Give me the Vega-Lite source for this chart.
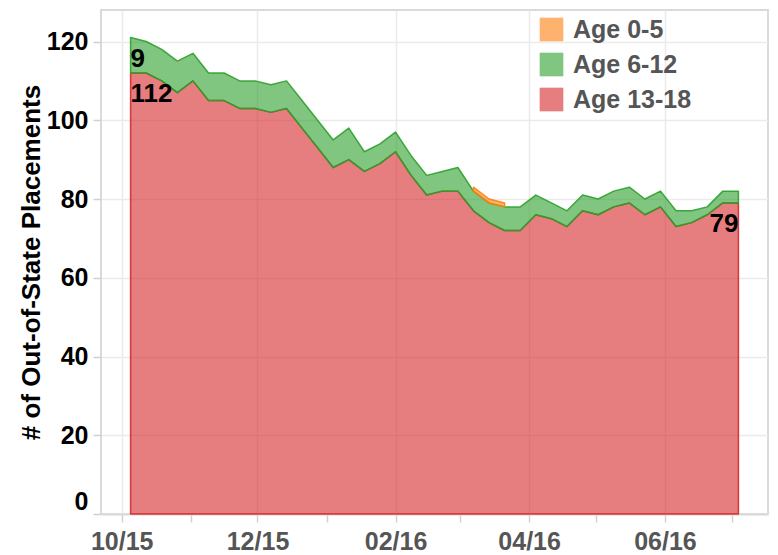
{
  "$schema": "https://vega.github.io/schema/vega-lite/v6.json",
  "width": 667,
  "height": 504,
  "autosize": {"type": "none"},
  "padding": {"left": 101, "top": 10, "right": 10, "bottom": 41},
  "background": "white",
  "data": {
    "values": [
      {"date": "2015-10-05", "age": "Age 13-18", "minAge": 13, "count": 112},
      {"date": "2015-10-12", "age": "Age 13-18", "minAge": 13, "count": 112},
      {"date": "2015-10-19", "age": "Age 13-18", "minAge": 13, "count": 110},
      {"date": "2015-10-26", "age": "Age 13-18", "minAge": 13, "count": 107},
      {"date": "2015-11-02", "age": "Age 13-18", "minAge": 13, "count": 110},
      {"date": "2015-11-09", "age": "Age 13-18", "minAge": 13, "count": 105},
      {"date": "2015-11-16", "age": "Age 13-18", "minAge": 13, "count": 105},
      {"date": "2015-11-23", "age": "Age 13-18", "minAge": 13, "count": 103},
      {"date": "2015-11-30", "age": "Age 13-18", "minAge": 13, "count": 103},
      {"date": "2015-12-07", "age": "Age 13-18", "minAge": 13, "count": 102},
      {"date": "2015-12-14", "age": "Age 13-18", "minAge": 13, "count": 103},
      {"date": "2015-12-21", "age": "Age 13-18", "minAge": 13, "count": 98},
      {"date": "2015-12-28", "age": "Age 13-18", "minAge": 13, "count": 93},
      {"date": "2016-01-04", "age": "Age 13-18", "minAge": 13, "count": 88},
      {"date": "2016-01-11", "age": "Age 13-18", "minAge": 13, "count": 90},
      {"date": "2016-01-18", "age": "Age 13-18", "minAge": 13, "count": 87},
      {"date": "2016-01-25", "age": "Age 13-18", "minAge": 13, "count": 89},
      {"date": "2016-02-01", "age": "Age 13-18", "minAge": 13, "count": 92},
      {"date": "2016-02-08", "age": "Age 13-18", "minAge": 13, "count": 86},
      {"date": "2016-02-15", "age": "Age 13-18", "minAge": 13, "count": 81},
      {"date": "2016-02-22", "age": "Age 13-18", "minAge": 13, "count": 82},
      {"date": "2016-02-29", "age": "Age 13-18", "minAge": 13, "count": 82},
      {"date": "2016-03-07", "age": "Age 13-18", "minAge": 13, "count": 77},
      {"date": "2016-03-14", "age": "Age 13-18", "minAge": 13, "count": 74},
      {"date": "2016-03-21", "age": "Age 13-18", "minAge": 13, "count": 72},
      {"date": "2016-03-28", "age": "Age 13-18", "minAge": 13, "count": 72},
      {"date": "2016-04-04", "age": "Age 13-18", "minAge": 13, "count": 76},
      {"date": "2016-04-11", "age": "Age 13-18", "minAge": 13, "count": 75},
      {"date": "2016-04-18", "age": "Age 13-18", "minAge": 13, "count": 73},
      {"date": "2016-04-25", "age": "Age 13-18", "minAge": 13, "count": 77},
      {"date": "2016-05-02", "age": "Age 13-18", "minAge": 13, "count": 76},
      {"date": "2016-05-09", "age": "Age 13-18", "minAge": 13, "count": 78},
      {"date": "2016-05-16", "age": "Age 13-18", "minAge": 13, "count": 79},
      {"date": "2016-05-23", "age": "Age 13-18", "minAge": 13, "count": 76},
      {"date": "2016-05-30", "age": "Age 13-18", "minAge": 13, "count": 78},
      {"date": "2016-06-06", "age": "Age 13-18", "minAge": 13, "count": 73},
      {"date": "2016-06-13", "age": "Age 13-18", "minAge": 13, "count": 74},
      {"date": "2016-06-20", "age": "Age 13-18", "minAge": 13, "count": 76},
      {"date": "2016-06-27", "age": "Age 13-18", "minAge": 13, "count": 79},
      {"date": "2016-07-04", "age": "Age 13-18", "minAge": 13, "count": 79},
      {"date": "2015-10-05", "age": "Age 6-12", "minAge": 6, "count": 9},
      {"date": "2015-10-12", "age": "Age 6-12", "minAge": 6, "count": 8},
      {"date": "2015-10-19", "age": "Age 6-12", "minAge": 6, "count": 8},
      {"date": "2015-10-26", "age": "Age 6-12", "minAge": 6, "count": 8},
      {"date": "2015-11-02", "age": "Age 6-12", "minAge": 6, "count": 7},
      {"date": "2015-11-09", "age": "Age 6-12", "minAge": 6, "count": 7},
      {"date": "2015-11-16", "age": "Age 6-12", "minAge": 6, "count": 7},
      {"date": "2015-11-23", "age": "Age 6-12", "minAge": 6, "count": 7},
      {"date": "2015-11-30", "age": "Age 6-12", "minAge": 6, "count": 7},
      {"date": "2015-12-07", "age": "Age 6-12", "minAge": 6, "count": 7},
      {"date": "2015-12-14", "age": "Age 6-12", "minAge": 6, "count": 7},
      {"date": "2015-12-21", "age": "Age 6-12", "minAge": 6, "count": 7},
      {"date": "2015-12-28", "age": "Age 6-12", "minAge": 6, "count": 7},
      {"date": "2016-01-04", "age": "Age 6-12", "minAge": 6, "count": 7},
      {"date": "2016-01-11", "age": "Age 6-12", "minAge": 6, "count": 8},
      {"date": "2016-01-18", "age": "Age 6-12", "minAge": 6, "count": 5},
      {"date": "2016-01-25", "age": "Age 6-12", "minAge": 6, "count": 5},
      {"date": "2016-02-01", "age": "Age 6-12", "minAge": 6, "count": 5},
      {"date": "2016-02-08", "age": "Age 6-12", "minAge": 6, "count": 5},
      {"date": "2016-02-15", "age": "Age 6-12", "minAge": 6, "count": 5},
      {"date": "2016-02-22", "age": "Age 6-12", "minAge": 6, "count": 5},
      {"date": "2016-02-29", "age": "Age 6-12", "minAge": 6, "count": 6},
      {"date": "2016-03-07", "age": "Age 6-12", "minAge": 6, "count": 5},
      {"date": "2016-03-14", "age": "Age 6-12", "minAge": 6, "count": 5},
      {"date": "2016-03-21", "age": "Age 6-12", "minAge": 6, "count": 6},
      {"date": "2016-03-28", "age": "Age 6-12", "minAge": 6, "count": 6},
      {"date": "2016-04-04", "age": "Age 6-12", "minAge": 6, "count": 5},
      {"date": "2016-04-11", "age": "Age 6-12", "minAge": 6, "count": 4},
      {"date": "2016-04-18", "age": "Age 6-12", "minAge": 6, "count": 4},
      {"date": "2016-04-25", "age": "Age 6-12", "minAge": 6, "count": 4},
      {"date": "2016-05-02", "age": "Age 6-12", "minAge": 6, "count": 4},
      {"date": "2016-05-09", "age": "Age 6-12", "minAge": 6, "count": 4},
      {"date": "2016-05-16", "age": "Age 6-12", "minAge": 6, "count": 4},
      {"date": "2016-05-23", "age": "Age 6-12", "minAge": 6, "count": 4},
      {"date": "2016-05-30", "age": "Age 6-12", "minAge": 6, "count": 4},
      {"date": "2016-06-06", "age": "Age 6-12", "minAge": 6, "count": 4},
      {"date": "2016-06-13", "age": "Age 6-12", "minAge": 6, "count": 3},
      {"date": "2016-06-20", "age": "Age 6-12", "minAge": 6, "count": 2},
      {"date": "2016-06-27", "age": "Age 6-12", "minAge": 6, "count": 3},
      {"date": "2016-07-04", "age": "Age 6-12", "minAge": 6, "count": 3},
      {"date": "2015-10-26", "age": "Age 0-5", "minAge": 0, "count": 0},
      {"date": "2016-03-07", "age": "Age 0-5", "minAge": 0, "count": 1},
      {"date": "2016-03-14", "age": "Age 0-5", "minAge": 0, "count": 1},
      {"date": "2016-03-21", "age": "Age 0-5", "minAge": 0, "count": 1}
    ],
    "format": {"parse": {"date": "date"}}
  },
  "transform": [
    {"stack": "count", "groupby": ["date"], "sort": [{"field": "minAge", "order": "descending"}], "as": ["y0", "y1"]}
  ],
  "encoding": {
    "x": {
      "field": "date",
      "type": "temporal",
      "scale": {
        "type": "utc",
        "domain": [
          {"year": 2015, "month": 9, "date": 21, "hours": 17, "utc": true},
          {"year": 2016, "month": 7, "date": 17, "hours": 7, "utc": true}
        ]
      },
      "axis": {
        "title": null,
        "tickCount": {"interval": "month", "step": 1},
        "labelExpr": "utcmonth(datum.value) % 2 === 1 ? utcFormat(datum.value, '%m/%y') : ''",
        "labelColor": "#555555",
        "labelPadding": 7,
        "labelFlush": false,
        "labelOverlap": false,
        "gridOpacity": {"condition": {"test": "utcmonth(datum.value) % 2 === 0", "value": 0}, "value": 1}
      }
    },
    "y": {
      "field": "y1",
      "type": "quantitative",
      "scale": {"domain": [0, 128], "nice": false},
      "axis": {
        "title": "# of Out-of-State Placements",
        "values": [0, 20, 40, 60, 80, 100, 120],
        "labelColor": "#000000",
        "labelPadding": 5,
        "labelFlush": true,
        "titlePadding": 2,
        "domain": false
      }
    }
  },
  "layer": [
    {
      "transform": [{"filter": "datum.minAge > 0"}],
      "mark": {"type": "area", "fillOpacity": 0.6, "strokeWidth": 1.5, "strokeOpacity": 0.9, "strokeJoin": "round"},
      "encoding": {
        "y2": {"field": "y0"},
        "color": {
          "field": "age",
          "type": "nominal",
          "scale": {"domain": ["Age 0-5", "Age 6-12", "Age 13-18"], "range": ["#ff7f0e", "#2ca02c", "#d62728"]},
          "legend": {
            "title": null,
            "orient": "none",
            "legendX": 438,
            "legendY": 7,
            "symbolType": "square",
            "symbolSize": 560,
            "symbolStrokeWidth": 0,
            "symbolOpacity": 0.6,
            "labelFont": "Liberation Sans",
            "labelFontSize": 25,
            "labelFontWeight": "bold",
            "labelColor": "#555555",
            "labelOffset": 9,
            "rowPadding": 9,
            "padding": 0
          }
        },
        "stroke": {
          "field": "age",
          "type": "nominal",
          "scale": {"domain": ["Age 0-5", "Age 6-12", "Age 13-18"], "range": ["#ff7f0e", "#2ca02c", "#d62728"]},
          "legend": null
        }
      }
    },
    {
      "transform": [{"filter": "datum.minAge === 0"}],
      "mark": {"type": "area", "fillOpacity": 0.6, "strokeWidth": 1.5, "strokeOpacity": 0.9, "strokeJoin": "round", "strokeCap": "round"},
      "encoding": {
        "y2": {"field": "y0"},
        "detail": {"field": "date", "timeUnit": "utcyearmonth", "type": "temporal"},
        "color": {
          "field": "age",
          "type": "nominal",
          "scale": {"domain": ["Age 0-5", "Age 6-12", "Age 13-18"], "range": ["#ff7f0e", "#2ca02c", "#d62728"]}
        },
        "stroke": {
          "field": "age",
          "type": "nominal",
          "scale": {"domain": ["Age 0-5", "Age 6-12", "Age 13-18"], "range": ["#ff7f0e", "#2ca02c", "#d62728"]},
          "legend": null
        }
      }
    },
    {
      "transform": [{"filter": "time(datum.date) === utc(2015, 9, 5) && datum.minAge > 0"}],
      "mark": {"type": "text", "align": "left", "baseline": "top", "dy": 8, "font": "Liberation Sans", "fontSize": 26, "fontWeight": "bold", "color": "#000000"},
      "encoding": {
        "text": {"field": "count", "type": "quantitative"}
      }
    },
    {
      "transform": [{"filter": "time(datum.date) === utc(2016, 6, 4) && datum.minAge === 13"}],
      "mark": {"type": "text", "align": "right", "baseline": "top", "dy": 8, "font": "Liberation Sans", "fontSize": 26, "fontWeight": "bold", "color": "#000000"},
      "encoding": {
        "text": {"field": "count", "type": "quantitative"}
      }
    }
  ],
  "config": {
    "view": {"stroke": "#dadada", "strokeWidth": 2},
    "axis": {
      "labelFont": "Liberation Sans",
      "labelFontSize": 25,
      "labelFontWeight": "bold",
      "titleFont": "Liberation Sans",
      "titleFontSize": 26,
      "titleFontWeight": "bold",
      "titleColor": "#000000",
      "gridColor": "#ebebeb",
      "gridWidth": 1.5,
      "tickColor": "#d0d0d0",
      "tickSize": 8,
      "tickWidth": 1.5,
      "domainColor": "#dadada",
      "domainWidth": 2
    }
  }
}
